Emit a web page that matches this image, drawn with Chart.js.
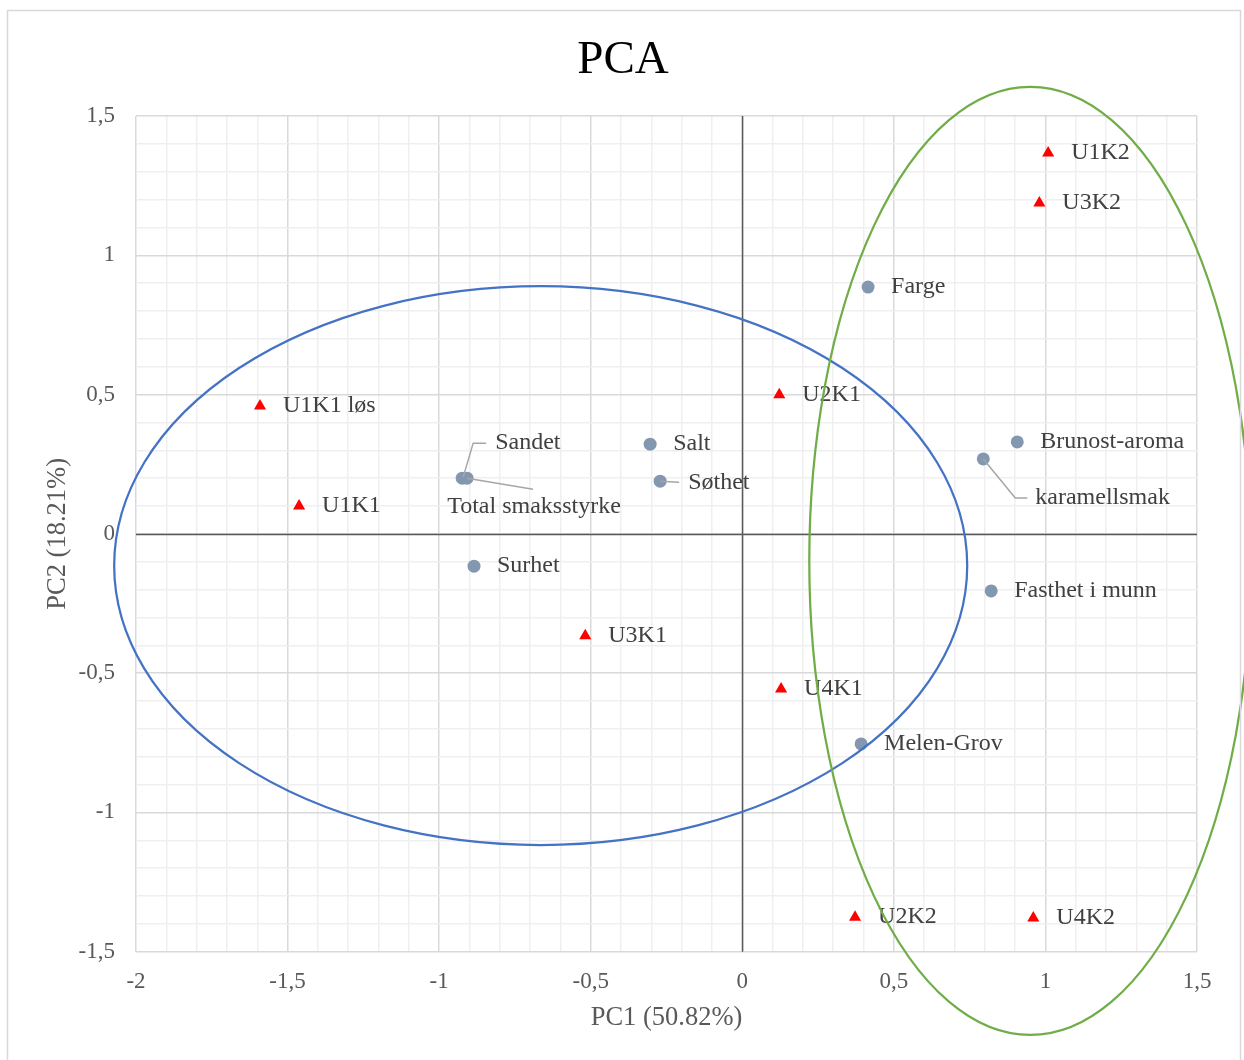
<!DOCTYPE html>
<html><head><meta charset="utf-8">
<script src="https://cdn.jsdelivr.net/npm/chart.js@4/dist/chart.umd.min.js"></script>
<style>html,body{margin:0;padding:0;background:#fff;} canvas{display:block;}</style>
</head><body>
<canvas id="c" width="1244" height="1060"></canvas>
<script>
const FONT = '"Liberation Serif", "Times New Roman", serif';
const chartTitle = 'PCA';
const xAxisTitle = 'PC1 (50.82%)';
const yAxisTitle = 'PC2 (18.21%)';

// Samples (red triangles)
const sampleNames = ['U1K1 løs','U1K1','U3K1','U2K1','U4K1','U1K2','U3K2','U2K2','U4K2'];
const sampleX = [-1.591,-1.462,-0.518,0.122,0.128,1.009,0.980,0.372,0.960];
const sampleY = [0.459,0.100,-0.366,0.499,-0.557,1.367,1.188,-1.376,-1.379];

// Attributes (blue-grey circles)
const attrNames = ['Farge','Brunost-aroma','karamellsmak','Fasthet i munn','Melen-Grov','Salt','Søthet','Sandet','Total smaksstyrke','Surhet'];
const attrX = [0.415,0.907,0.795,0.821,0.392,-0.304,-0.271,-0.924,-0.908,-0.885];
const attrY = [0.886,0.330,0.269,-0.205,-0.754,0.322,0.189,0.200,0.200,-0.116];

// Tick labels
const xTickValues = [-2,-1.5,-1,-0.5,0,0.5,1,1.5];
const xTickLabels = ['-2','-1,5','-1','-0,5','0','0,5','1','1,5'];
const yTickValues = [-1.5,-1,-0.5,0,0.5,1,1.5];
const yTickLabels = ['-1,5','-1','-0,5','0','0,5','1','1,5'];

// Group ellipses (centre and radii in data units)
const ellipseCX = [-0.665, 0.950];
const ellipseCY = [-0.114, -0.097];
const ellipseRX = [1.407, 0.729];
const ellipseRY = [1.003, 1.702];
const ellipseColors = ['#4472C4', '#70AD47'];

// Label placement (pixel offsets from the point) – layout only
const defaultLabel = {dx: 23, dy: 0};
const sampleLabelDy = 0.5;
const labelLayout = {
  'Søthet': {dx: 28, dy: 2, leader: [[0,0],[19,1]]},
  'Sandet': {dx: 33, dy: -35, leader: [[1,-1],[11,-35],[24,-35]]},
  'Total smaksstyrke': {dx: 67, dy: 29, align: 'center', leader: [[0,0],[66,11]]},
  'karamellsmak': {dx: 52, dy: 39, leader: [[0,0],[32,39],[44,39]]}
};

function tickLabel(values, labels) {
  return function(v) {
    for (let i = 0; i < values.length; i++) if (Math.abs(values[i] - v) < 1e-6) return labels[i];
    return '';
  };
}
function gridColor(ctx) {
  const v = ctx.tick ? ctx.tick.value : 1;
  if (Math.abs(v * 2 - Math.round(v * 2)) < 1e-6) return '#d9d9d9';
  return '#efefef';
}

const labelPlugin = {
  id: 'pointLabels',
  beforeDatasetsDraw(chart) {
    // axis lines through the origin, on top of the grid
    const ctx = chart.ctx, xs = chart.scales.x, ys = chart.scales.y, a = chart.chartArea;
    const x0 = Math.round(xs.getPixelForValue(0)) + 0.5;
    const y0 = Math.round(ys.getPixelForValue(0)) + 0.5;
    ctx.save();
    ctx.strokeStyle = '#595959';
    ctx.lineWidth = 1.5;
    ctx.beginPath();
    ctx.moveTo(x0, a.top); ctx.lineTo(x0, a.bottom);
    ctx.moveTo(a.left, y0); ctx.lineTo(a.right, y0);
    ctx.stroke();
    ctx.restore();
  },
  afterDatasetsDraw(chart) {
    const ctx = chart.ctx, xs = chart.scales.x, ys = chart.scales.y;
    const items = sampleNames.map((n, i) => [n, sampleX[i], sampleY[i], true])
      .concat(attrNames.map((n, i) => [n, attrX[i], attrY[i], false]));
    ctx.save();
    for (const [name, vx, vy, isSample] of items) {
      const px = xs.getPixelForValue(vx), py = ys.getPixelForValue(vy) - (isSample ? sampleLabelDy : 0);
      const lay = labelLayout[name] || defaultLabel;
      if (lay.leader) {
        ctx.beginPath();
        ctx.strokeStyle = '#a6a6a6';
        ctx.lineWidth = 1.5;
        lay.leader.forEach((p, k) => k === 0 ? ctx.moveTo(px + p[0], py + p[1]) : ctx.lineTo(px + p[0], py + p[1]));
        ctx.stroke();
      }
      ctx.font = '24px ' + FONT;
      ctx.fillStyle = '#404040';
      ctx.textBaseline = 'middle';
      ctx.textAlign = lay.align || 'left';
      ctx.fillText(name, px + lay.dx, py + lay.dy);
    }
    ctx.restore();
  },
  afterDraw(chart) {
    const ctx = chart.ctx, xs = chart.scales.x, ys = chart.scales.y;
    ctx.save();
    for (let i = 0; i < ellipseCX.length; i++) {
      const cx = xs.getPixelForValue(ellipseCX[i]);
      const cy = ys.getPixelForValue(ellipseCY[i]);
      const rx = Math.abs(xs.getPixelForValue(ellipseCX[i] + ellipseRX[i]) - cx);
      const ry = Math.abs(ys.getPixelForValue(ellipseCY[i] + ellipseRY[i]) - cy);
      ctx.beginPath();
      ctx.ellipse(cx, cy, rx, ry, 0, 0, Math.PI * 2);
      ctx.strokeStyle = ellipseColors[i];
      ctx.lineWidth = 2.25;
      ctx.stroke();
    }
    // chart title
    ctx.font = '47px ' + FONT;
    ctx.fillStyle = '#000000';
    ctx.textAlign = 'center';
    ctx.textBaseline = 'middle';
    ctx.fillText(chartTitle, 623, 61);
    // outer frame
    ctx.strokeStyle = '#d9d9d9';
    ctx.lineWidth = 1.5;
    ctx.strokeRect(7.5, 10.5, 1233, 1060);
    ctx.restore();
  }
};

new Chart(document.getElementById('c'), {
  type: 'scatter',
  data: {
    datasets: [
      {
        label: 'Attributes',
        data: attrNames.map((n, i) => ({x: attrX[i], y: attrY[i]})),
        pointStyle: 'circle',
        pointRadius: 6.5,
        backgroundColor: '#8497B0',
        borderColor: '#8497B0',
        borderWidth: 0
      },
      {
        label: 'Samples',
        data: sampleNames.map((n, i) => ({x: sampleX[i], y: sampleY[i]})),
        pointStyle: 'triangle',
        pointRadius: 7,
        backgroundColor: '#FF0000',
        borderColor: '#FF0000',
        borderWidth: 0
      }
    ]
  },
  options: {
    responsive: false,
    animation: false,
    devicePixelRatio: 1,
    layout: {padding: {top: 116, right: 47, left: 0, bottom: 0}},
    plugins: {legend: {display: false}, tooltip: {enabled: false}, title: {display: false}},
    scales: {
      x: {
        type: 'linear', position: 'bottom', min: -2, max: 1.5,
        afterFit(s) { s.height = 108.3; },
        ticks: {
          stepSize: 0.1, maxTicksLimit: 100, autoSkip: false, maxRotation: 0, padding: 16,
          color: '#595959', font: {family: FONT, size: 23},
          callback: tickLabel(xTickValues, xTickLabels)
        },
        grid: {color: gridColor, lineWidth: 1.5, drawTicks: false},
        border: {display: false},
        title: {display: true, text: xAxisTitle, color: '#595959', font: {family: FONT, size: 26.5}, padding: {top: 0, bottom: 26}}
      },
      y: {
        type: 'linear', position: 'left', min: -1.5, max: 1.5,
        afterFit(s) { s.width = 136; },
        ticks: {
          stepSize: 0.1, maxTicksLimit: 100, autoSkip: false, padding: 21,
          color: '#595959', font: {family: FONT, size: 23},
          callback: tickLabel(yTickValues, yTickLabels)
        },
        grid: {color: gridColor, lineWidth: 1.5, drawTicks: false},
        border: {display: false},
        title: {display: true, text: yAxisTitle, color: '#595959', font: {family: FONT, size: 26.5}, padding: {top: 42, bottom: 0}}
      }
    }
  },
  plugins: [labelPlugin]
});
</script>
</body></html>
